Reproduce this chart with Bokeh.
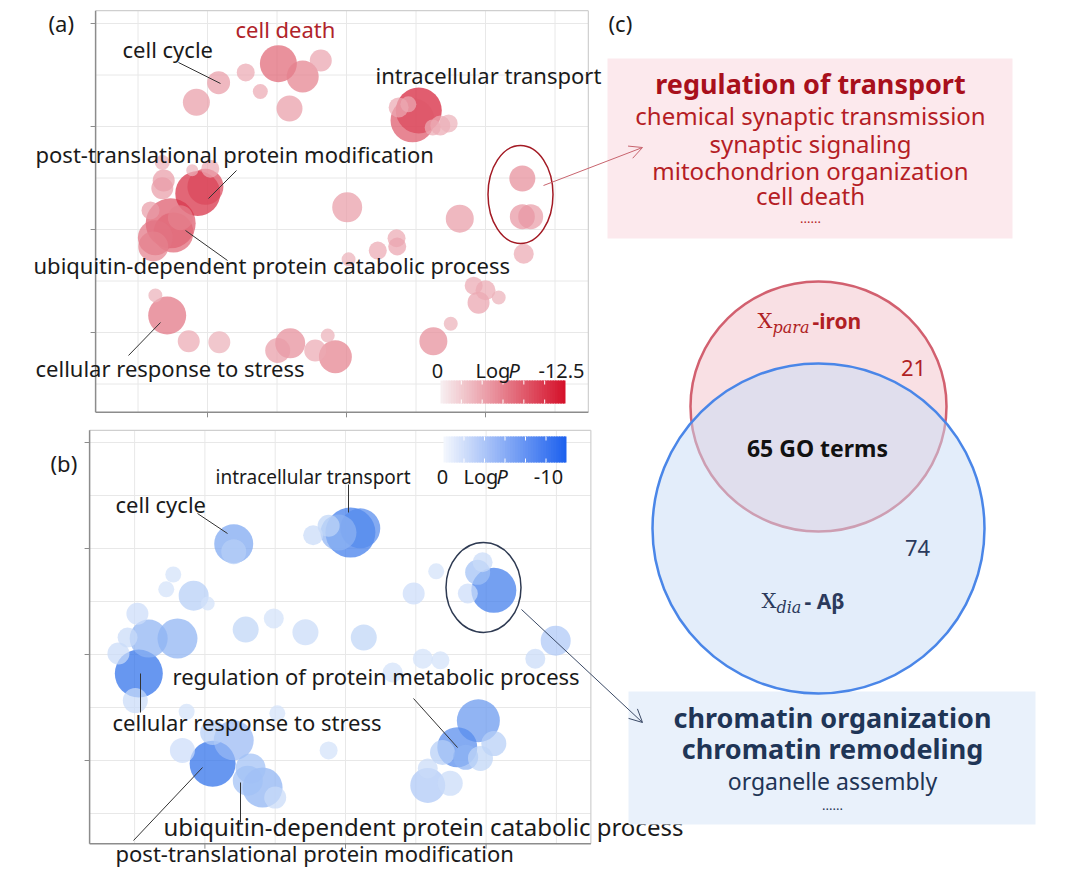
import numpy as np
from bokeh.plotting import figure
from bokeh.models import Range1d, Arrow, OpenHead, ColumnDataSource
from bokeh.core.properties import value
from bokeh.transform import linear_cmap
from bokeh.embed import file_html
from bokeh.resources import INLINE

FONT = "Noto Sans"

# ---------------- Panel (a): X_para-iron GO terms (semantic space) ----------------
a_x = [-1.84, -1.45, -1.24, -0.98, -0.63, -0.37, -0.82, -2.16,
       1.04, 0.95, 0.75, 0.89, 1.35, 1.47, 1.24,
       -2.14, -2.03, -1.96, -2.65, -2.63, -2.65, -2.22,
       -2.53, -2.49, -2.75, -2.78, -2.39, -2.82,
       0.01, 1.63, 2.53, 2.53, 2.65, 2.55, 0.45, 0.72, 0.73, 0.03,
       1.83, 2.00, 2.19, 1.90, 1.50, 1.25,
       -2.58, -2.75, -2.27, -1.83, -0.81, -0.99, -0.45, -0.27, -0.16]
a_y = [4.85, 5.05, 4.68, 5.22, 4.97, 5.28, 4.35, 4.47,
       4.31, 4.12, 4.37, 4.43, 4.02, 4.06, 3.98,
       2.70, 2.83, 3.18, 3.30, 2.95, 2.80, 3.15,
       2.12, 1.94, 1.84, 1.67, 2.23, 2.37,
       2.43, 2.21, 2.99, 2.25, 2.25, 1.53, 1.59, 1.83, 1.67, 1.42,
       0.91, 0.82, 0.68, 0.58, 0.17, -0.17,
       0.33, 0.72, -0.17, -0.19, -0.21, -0.35, -0.35, -0.06, -0.47]
a_size = [23, 18, 15, 37, 32, 22, 26, 27,
          46, 44, 20, 16, 20, 18, 16,
          45, 36, 18, 15, 22, 22, 12,
          50, 40, 35, 30, 25, 18,
          30, 28, 26, 25, 25, 20, 18, 18, 18, 14,
          18, 20, 14, 22, 14, 28,
          38, 14, 22, 22, 30, 25, 22, 14, 33]
a_logp = [-3, -2, -2, -7, -5, -2.5, -3, -3,
          -12, -8, -2, -2, -2, -1.5, -2,
          -11, -9, -2, -1.5, -3, -3, -1.5,
          -8, -7, -6, -5, -5, -3,
          -3, -3, -4, -3.5, -3, -2, -2, -2, -2.5, -1.5,
          -2, -2, -1.5, -2.5, -1.5, -4,
          -6, -1.5, -2, -1.5, -4, -3, -2, -1.5, -5]

# ---------------- Panel (b): X_dia-Abeta GO terms (semantic space) ----------------
b_x = [-1.59, -1.59, 0.07, -0.10, -0.46, -0.24, 0.21,
       -2.16, -2.45, -2.55, -1.96, -2.96, -2.80, -2.39, -3.10, -1.42, -1.02, -0.57, 0.26,
       2.11, 1.88, 1.95, 1.74, 1.29, 0.97, 2.99, 2.70,
       -2.94, -2.99, -3.23, -2.26,
       -1.89, -2.32, -1.89, -1.59, -1.35, -1.18, -1.39, -1.00, -0.97, -0.24, 0.67,
       1.89, 1.59, 1.71, 2.11, 1.92, 1.38, 1.17, 1.17, 1.49, 1.10, 1.35]
b_y = [4.09, 3.94, 4.30, 4.30, 4.25, 4.43, 4.38,
       3.11, 3.51, 3.23, 2.96, 2.77, 2.30, 2.30, 2.32, 2.47, 2.68, 2.42, 2.32,
       3.21, 3.55, 3.74, 3.15, 3.57, 3.15, 2.26, 1.92,
       1.64, 1.13, 2.02, 0.92,
       -0.06, 0.19, 0.53, 0.38, -0.15, -0.51, -0.38, -0.70, 0.89, 0.19, 1.66,
       0.75, 0.25, 0.06, 0.32, 0.04, 0.15, -0.15, -0.47, -0.43, 1.92, 1.89]
b_size = [39, 25, 50, 36, 20, 22, 40,
          30, 16, 16, 14, 22, 38, 40, 20, 26, 20, 26, 26,
          45, 25, 20, 20, 16, 22, 30, 20,
          48, 25, 22, 16,
          46, 25, 25, 40, 30, 40, 30, 22, 16, 18, 20,
          43, 40, 25, 25, 25, 25, 20, 35, 25, 20, 18]
b_logp = [-5, -2, -8, -4, -1, -1.5, -7,
          -2, -0.5, -0.5, -0.5, -0.8, -4, -4, -1, -1.5, -0.5, -1, -1.5,
          -8, -3, -1, -0.8, -0.5, -0.8, -2.5, -1,
          -9, -1, -1, -0.5,
          -9, -0.8, -2, -3.5, -3, -4, -3, -1, -0.5, -0.5, -0.5,
          -6, -7, -4, -2, -1.5, -2, -1, -2.5, -1, -0.5, -0.5]

# semantic-space frame, grid and tick values
a_xlim, a_ylim = [-3.61, 3.48], [-1.55, 6.25]
b_xlim, b_ylim = [-3.64, 3.49], [-1.57, 6.23]
grid_x = [-3, -2, -1, 0, 1, 2, 3]
grid_y = [-1, 0, 1, 2, 3, 4, 5, 6]
major_x = [-2, 0, 2]
major_y = [0, 2, 4, 6]

# labels
a_labels = ["cell cycle", "cell death", "intracellular transport",
            "post-translational protein modification",
            "ubiquitin-dependent protein catabolic process",
            "cellular response to stress"]
b_labels = ["intracellular transport", "cell cycle",
            "regulation of protein metabolic process",
            "cellular response to stress",
            "ubiquitin-dependent protein catabolic process",
            "post-translational protein modification"]
red_terms = ["regulation of transport", "chemical synaptic transmission",
             "synaptic signaling", "mitochondrion organization", "cell death", "......"]
blue_terms = ["chromatin organization", "chromatin remodeling", "organelle assembly", "......"]
venn_only_para, venn_shared, venn_only_dia = 21, 65, 74

# ---------------- layout constants (screen mapping) ----------------
A_X0, A_UX, A_Y0, A_UY = 346, 69.5, 332, 51.5
B_X0, B_UX, B_Y0, B_UY = 345, 70.3, 760, 53.0
L, R, T, Bt = 0, 1064, 0, 869


def ramp(c0, c1, n):
    c0 = np.array([int(c0[i:i + 2], 16) for i in (1, 3, 5)], float)
    c1 = np.array([int(c1[i:i + 2], 16) for i in (1, 3, 5)], float)
    out = []
    for t in np.linspace(0, 1, n):
        c = c0 + (c1 - c0) * t
        out.append("#%02x%02x%02x" % tuple(int(round(v)) for v in c))
    return out


p = figure(width=1064, height=869, x_range=Range1d(L, R), y_range=Range1d(Bt, T),
           output_backend="svg", toolbar_location=None, min_border=0,
           x_axis_location=None, y_axis_location=None, outline_line_color=None,
           background_fill_color="white", border_fill_color="white")
p.grid.visible = False
p.extra_x_ranges = {"ax": Range1d((L - A_X0) / A_UX, (R - A_X0) / A_UX),
                    "bx": Range1d((L - B_X0) / B_UX, (R - B_X0) / B_UX)}
p.extra_y_ranges = {"ay": Range1d((A_Y0 - Bt) / A_UY, (A_Y0 - T) / A_UY),
                    "by": Range1d((B_Y0 - Bt) / B_UY, (B_Y0 - T) / B_UY)}


def txt(x, y, s, size=19, color="#1a1a1a", align="left", style="normal", font=FONT):
    p.text(x=[x], y=[y], text=[s], text_font=value(font), text_font_size=value(f"{size}px"),
           text_color=color, text_align=align, text_baseline="middle", text_font_style=style)


def panel(xs, ys, sizes, logps, xlim, ylim, xr, yr, ux, uy, pal, low):
    # grid
    p.segment(x0=grid_x, y0=[ylim[0]] * len(grid_x), x1=grid_x, y1=[ylim[1]] * len(grid_x),
              line_color="#e8e8e8", line_width=1, x_range_name=xr, y_range_name=yr)
    p.segment(x0=[xlim[0]] * len(grid_y), y0=grid_y, x1=[xlim[1]] * len(grid_y), y1=grid_y,
              line_color="#e8e8e8", line_width=1, x_range_name=xr, y_range_name=yr)
    # frame
    p.segment(x0=[xlim[0], xlim[1]], y0=[ylim[1], ylim[0]], x1=[xlim[1], xlim[1]], y1=[ylim[1], ylim[1]],
              line_color="#cfcfcf", line_width=1.2, x_range_name=xr, y_range_name=yr)
    p.segment(x0=[xlim[0], xlim[0]], y0=[ylim[0], ylim[0]], x1=[xlim[0], xlim[1]], y1=[ylim[1], ylim[0]],
              line_color="#8c8c8c", line_width=1.5, x_range_name=xr, y_range_name=yr)
    # ticks
    tx, ty = 5 / ux, 5 / uy
    p.segment(x0=major_x, y0=[ylim[0]] * 3, x1=major_x, y1=[ylim[0] - ty] * 3,
              line_color="#8c8c8c", x_range_name=xr, y_range_name=yr)
    p.segment(x0=[xlim[0]] * 4, y0=major_y, x1=[xlim[0] - tx] * 4, y1=major_y,
              line_color="#8c8c8c", x_range_name=xr, y_range_name=yr)
    # bubbles, big first
    order = np.argsort(sizes)[::-1]
    src = ColumnDataSource(dict(x=[xs[i] for i in order], y=[ys[i] for i in order],
                                s=[sizes[i] for i in order], lp=[logps[i] for i in order]))
    p.scatter("x", "y", size="s", source=src, marker="circle",
              fill_color=linear_cmap("lp", pal, low, 0), fill_alpha=0.72,
              line_color=None, x_range_name=xr, y_range_name=yr)


red_pal = ramp("#d41a32", "#efc4cb", 64)
blue_pal = ramp("#1a62e8", "#dbe8fa", 64)
panel(a_x, a_y, a_size, a_logp, a_xlim, a_ylim, "ax", "ay", A_UX, A_UY, red_pal, -12.5)
panel(b_x, b_y, b_size, b_logp, b_xlim, b_ylim, "bx", "by", B_UX, B_UY, blue_pal, -10)


def colorbar(x0, x1, y0, y1, c_light, c_dark):
    n = 48
    cols = ramp(c_light, c_dark, n)
    edges = np.linspace(x0, x1, n + 1)
    right = np.minimum(edges[1:] + 1.5, x1)
    p.quad(left=edges[:-1], right=right, top=[y0] * n, bottom=[y1] * n,
           fill_color=cols, line_color=None)
    tk = np.linspace(x0, x1, 7)[1:-1]
    p.segment(x0=tk, y0=[y1] * 5, x1=tk, y1=[y1 - 4] * 5, line_color="white", line_width=1)
    p.segment(x0=tk, y0=[y0] * 5, x1=tk, y1=[y0 + 4] * 5, line_color="white", line_width=1)


colorbar(440, 565, 380, 403, "#f7eef0", "#d5122b")
txt(437, 370, "0", 20, align="center")
txt(475, 370, "Log", 20)
txt(508, 370, "P", 20, style="italic")
txt(561, 370, "-12.5", 20, align="center")

colorbar(443, 566, 436, 462, "#f2f6fd", "#1f62ee")
txt(442, 476, "0", 20, align="center")
txt(463, 476, "Log", 20)
txt(496, 476, "P", 20, style="italic")
txt(548, 476, "-10", 20, align="center")

# leader lines
lx0 = [178, 236, 185, 160, 348, 197, 413, 140, 240, 133]
ly0 = [62, 170, 230, 322, 484, 513, 698, 673, 782, 840]
lx1 = [220, 208, 227, 128, 348, 227, 457, 140, 240, 202]
ly1 = [83, 198, 260, 355, 512, 533, 747, 712, 822, 767]
p.segment(x0=lx0, y0=ly0, x1=lx1, y1=ly1, line_color="#333333", line_width=1)

# panel labels
txt(48, 22, "(a)", 22)
txt(50, 462, "(b)", 22)
txt(608, 22, "(c)", 22)

a_lx = [122, 235, 375, 35, 33, 35]
a_ly = [48, 28, 74, 153, 264, 367]
for s, x, y in zip(a_labels, a_lx, a_ly):
    txt(x, y, s, 22, color="#b0232a" if s == "cell death" else "#1a1a1a")

b_lx = [215, 115, 172, 112, 163, 115]
b_ly = [476, 503, 675, 721, 826, 852]
b_fs = [19, 22, 22, 22, 24, 22]
for s, x, y, f in zip(b_labels, b_lx, b_ly, b_fs):
    txt(x, y, s, f)

# ellipses
p.ellipse(x=[520], y=[194], width=[65], height=[98], fill_color=None,
          line_color="#a31a24", line_width=1.5)
p.ellipse(x=[483], y=[587], width=[75], height=[90], fill_color=None,
          line_color="#2e3a52", line_width=1.5)

# (c) boxes
p.quad(left=[607], right=[1012], top=[58], bottom=[238], fill_color="#fce9ed", line_color=None)
p.quad(left=[628], right=[1035], top=[691], bottom=[824], fill_color="#e9f1fb", line_color=None)

red_y = [83, 115, 143, 170, 195, 222]
for i, (s, y) in enumerate(zip(red_terms, red_y)):
    if i == 0:
        txt(810, y, s, 27, color="#a8101c", align="center", style="bold")
    elif s == "......":
        txt(810, y - 4, s, 13, color="#b51d25", align="center")
    else:
        txt(810, y, s, 24, color="#b51d25", align="center")

blue_y = [717, 748, 780, 809]
for i, (s, y) in enumerate(zip(blue_terms, blue_y)):
    if i < 2:
        txt(832, y, s, 27, color="#1f3556", align="center", style="bold")
    elif s == "......":
        txt(832, y - 4, s, 13, color="#1f3556", align="center")
    else:
        txt(832, y, s, 23, color="#1f3556", align="center")

# arrows
p.add_layout(Arrow(x_start=543, y_start=185, x_end=642, y_end=147, line_color="#c8646e", line_width=1,
                   end=OpenHead(size=13, line_color="#c8646e", line_width=1)))
p.add_layout(Arrow(x_start=521, y_start=609, x_end=642, y_end=722, line_color="#3b4a66", line_width=1,
                   end=OpenHead(size=13, line_color="#3b4a66", line_width=1)))

# Venn
p.ellipse(x=[818], y=[406], width=[256], height=[250], fill_color="#f9e0e4",
          line_color="#d2606f", line_width=2.5)
p.ellipse(x=[818], y=[528], width=[332], height=[330], fill_color="#c7dbf5", fill_alpha=0.5,
          line_color="#4a86e8", line_width=2.5)

txt(757, 320, "X", 21, color="#b01f24", font="DejaVu Serif")
txt(772, 327, "para", 16, color="#b01f24", style="italic", font="DejaVu Serif")
txt(812, 320, "-iron", 21, color="#b01f24", style="bold")
txt(913, 367, str(venn_only_para), 22, color="#b01f24", align="center")
txt(817, 447, f"{venn_shared} GO terms", 23, color="#111111", align="center", style="bold")
txt(917, 547, str(venn_only_dia), 22, color="#2b3a5c", align="center")
txt(761, 600, "X", 21, color="#2b3a5c", font="DejaVu Serif")
txt(776, 607, "dia", 16, color="#2b3a5c", style="italic", font="DejaVu Serif")
txt(804, 600, "- A\u03b2", 21, color="#2b3a5c", style="bold")

open("out.html", "w").write(file_html(p, INLINE))
